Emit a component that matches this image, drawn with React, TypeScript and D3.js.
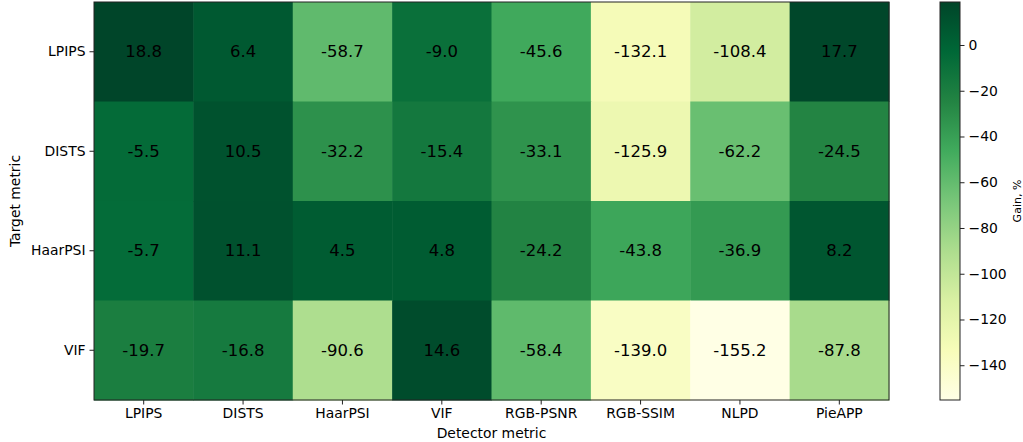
import React, { useEffect, useRef } from "react";
import * as d3 from "d3";

const targets = ["LPIPS", "DISTS", "HaarPSI", "VIF"];
const detectors = ["LPIPS", "DISTS", "HaarPSI", "VIF", "RGB-PSNR", "RGB-SSIM", "NLPD", "PieAPP"];
const rowLPIPS = [18.8, 6.4, -58.7, -9.0, -45.6, -132.1, -108.4, 17.7];
const rowDISTS = [-5.5, 10.5, -32.2, -15.4, -33.1, -125.9, -62.2, -24.5];
const rowHaarPSI = [-5.7, 11.1, 4.5, 4.8, -24.2, -43.8, -36.9, 8.2];
const rowVIF = [-19.7, -16.8, -90.6, 14.6, -58.4, -139.0, -155.2, -87.8];
const colorbarTicks = [0, -20, -40, -60, -80, -100, -120, -140];
const ylgn = ["#ffffe5", "#f7fcb9", "#d9f0a3", "#addd8e", "#78c679", "#41ab5d", "#238443", "#006837", "#004529"];

const svgWidth = 1023;
const svgHeight = 442;

export default function App() {
  const svgRef = useRef<SVGSVGElement>(null);

  useEffect(() => {
    const svg = d3.select(svgRef.current);
    svg.selectAll("*").remove();
    const font = "DejaVu Sans, sans-serif";

    const rows = [rowLPIPS, rowDISTS, rowHaarPSI, rowVIF];
    const cells = rows.flatMap((r, i) => r.map((v, j) => ({ t: targets[i], d: detectors[j], v })));
    const all = cells.map((c) => c.v);
    const vmin = d3.min(all)!;
    const vmax = d3.max(all)!;

    const color = d3
      .scaleLinear<string>()
      .domain(ylgn.map((_, i) => vmin + (i * (vmax - vmin)) / (ylgn.length - 1)))
      .range(ylgn)
      .interpolate(d3.interpolateRgb);

    const left = 94, right = 889, top = 2, bottom = 400;
    const x = d3.scaleBand().domain(detectors).range([left, right]);
    const y = d3.scaleBand().domain(targets).range([top, bottom]);

    svg
      .append("g")
      .selectAll("rect")
      .data(cells)
      .enter()
      .append("rect")
      .attr("x", (d) => x(d.d)!)
      .attr("y", (d) => y(d.t)!)
      .attr("width", x.bandwidth() + 0.5)
      .attr("height", y.bandwidth() + 0.5)
      .attr("fill", (d) => color(d.v));

    svg
      .append("g")
      .selectAll("text")
      .data(cells)
      .enter()
      .append("text")
      .attr("x", (d) => x(d.d)! + x.bandwidth() / 2)
      .attr("y", (d) => y(d.t)! + y.bandwidth() / 2)
      .attr("text-anchor", "middle")
      .attr("dominant-baseline", "central")
      .style("font-family", font)
      .style("font-size", "16.5px")
      .attr("fill", "black")
      .text((d) => d.v.toFixed(1));

    svg
      .append("rect")
      .attr("x", left)
      .attr("y", top)
      .attr("width", right - left)
      .attr("height", bottom - top)
      .attr("fill", "none")
      .attr("stroke", "#222")
      .attr("stroke-width", 1);

    const xAxis = svg
      .append("g")
      .attr("transform", `translate(0,${bottom})`)
      .call(d3.axisBottom(x).tickSize(4.5).tickPadding(4));
    const yAxis = svg
      .append("g")
      .attr("transform", `translate(${left},0)`)
      .call(d3.axisLeft(y).tickSize(4.5).tickPadding(4));
    [xAxis, yAxis].forEach((a) => {
      a.select(".domain").remove();
      a.selectAll("text").style("font-family", font).style("font-size", "13.9px").attr("fill", "black");
      a.selectAll("line").attr("stroke", "#222");
    });

    svg
      .append("text")
      .attr("x", (left + right) / 2)
      .attr("y", 438)
      .attr("text-anchor", "middle")
      .style("font-family", font)
      .style("font-size", "13.9px")
      .text("Detector metric");

    svg
      .append("text")
      .attr("transform", `translate(20,${(top + bottom) / 2}) rotate(-90)`)
      .attr("text-anchor", "middle")
      .style("font-family", font)
      .style("font-size", "13.9px")
      .text("Target metric");

    // colorbar
    const cbLeft = 940, cbWidth = 20;
    const cy = d3.scaleLinear().domain([vmin, vmax]).range([bottom, top]);
    const defs = svg.append("defs");
    const grad = defs
      .append("linearGradient")
      .attr("id", "cbgrad")
      .attr("x1", 0)
      .attr("y1", 1)
      .attr("x2", 0)
      .attr("y2", 0);
    ylgn.forEach((c, i) => {
      grad
        .append("stop")
        .attr("offset", `${(i / (ylgn.length - 1)) * 100}%`)
        .attr("stop-color", c);
    });
    svg
      .append("rect")
      .attr("x", cbLeft)
      .attr("y", top)
      .attr("width", cbWidth)
      .attr("height", bottom - top)
      .attr("fill", "url(#cbgrad)")
      .attr("stroke", "#222")
      .attr("stroke-width", 1);

    const cbAxis = svg
      .append("g")
      .attr("transform", `translate(${cbLeft + cbWidth},0)`)
      .call(
        d3
          .axisRight(cy)
          .tickValues(colorbarTicks)
          .tickSize(4.5)
          .tickPadding(4)
          .tickFormat((d) => (d as number) < 0 ? `\u2212${Math.abs(d as number)}` : `${d}`)
      );
    cbAxis.select(".domain").remove();
    cbAxis.selectAll("text").style("font-family", font).style("font-size", "13.9px").attr("fill", "black");
    cbAxis.selectAll("line").attr("stroke", "#222");

    svg
      .append("text")
      .attr("transform", `translate(1017,${(top + bottom) / 2}) rotate(-90)`)
      .attr("text-anchor", "middle")
      .attr("dominant-baseline", "central")
      .style("font-family", font)
      .style("font-size", "11px")
      .text("Gain, %");
  }, []);

  return (
    <svg
      ref={svgRef}
      width={svgWidth}
      height={svgHeight}
      style={{ position: "absolute", left: 0, top: 0, background: "white" }}
    ></svg>
  );
}
